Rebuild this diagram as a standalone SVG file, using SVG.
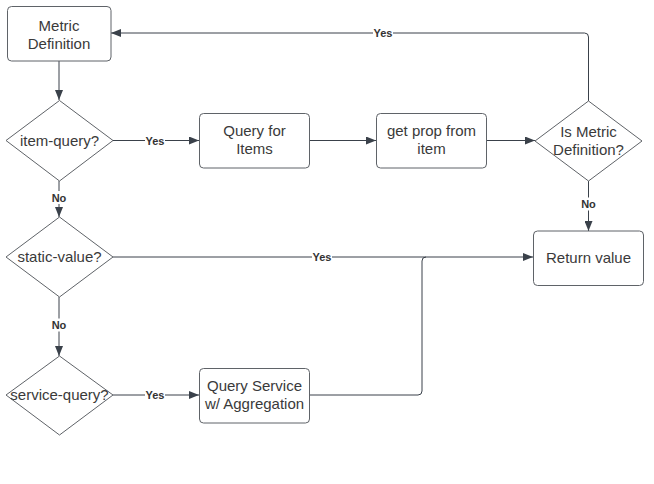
<svg xmlns="http://www.w3.org/2000/svg" width="654" height="484" viewBox="0 0 654 484">
<style>
.node{fill:#ffffff;stroke:#5f6368;stroke-width:1}
.t{font-family:"Liberation Sans",Arial,sans-serif;font-size:15px;fill:#3a3a3a;text-anchor:middle;dominant-baseline:central}
.c{fill:none;stroke:#3a414a;stroke-width:1}
.lbl{font-family:"Liberation Sans",Arial,sans-serif;font-size:11px;font-weight:bold;fill:#333333;text-anchor:middle;dominant-baseline:central}
.bg{fill:#ffffff}
</style>
<defs>
<marker id="ah" viewBox="0 0 10 8" refX="10" refY="4" markerWidth="10" markerHeight="8" markerUnits="userSpaceOnUse" orient="auto">
<path d="M0,0 L10,4 L0,8 Z" fill="#3a414a"/>
</marker>
</defs>
<rect width="654" height="484" fill="#ffffff"/>
<g id="connectors">
<path class="c" d="M59,61 V100" marker-end="url(#ah)"/>
<path class="c" d="M113,140.5 H199" marker-end="url(#ah)"/>
<path class="c" d="M310,140.5 H376" marker-end="url(#ah)"/>
<path class="c" d="M487,140.5 H535" marker-end="url(#ah)"/>
<path class="c" d="M588.5,101 V37 Q588.5,33 584.5,33 H111" marker-end="url(#ah)"/>
<path class="c" d="M588.5,181 V231" marker-end="url(#ah)"/>
<path class="c" d="M59,181 V217" marker-end="url(#ah)"/>
<path class="c" d="M113,257 H533" marker-end="url(#ah)"/>
<path class="c" d="M59,297 V356" marker-end="url(#ah)"/>
<path class="c" d="M113,395 H199" marker-end="url(#ah)"/>
<path class="c" d="M310,395 H418 Q422,395 422,391 V261 Q422,257 426,257"/>
<rect class="bg" x="145" y="134" width="20" height="13"/>
<text class="lbl" x="155" y="140.5">Yes</text>
<rect class="bg" x="49" y="191" width="20" height="13"/>
<text class="lbl" x="59" y="197.5">No</text>
<rect class="bg" x="373" y="26.5" width="20" height="13"/>
<text class="lbl" x="383" y="33">Yes</text>
<rect class="bg" x="578.5" y="197.5" width="20" height="13"/>
<text class="lbl" x="588.5" y="204">No</text>
<rect class="bg" x="312" y="250.5" width="20" height="13"/>
<text class="lbl" x="322" y="257">Yes</text>
<rect class="bg" x="49" y="318.5" width="20" height="13"/>
<text class="lbl" x="59" y="325">No</text>
<rect class="bg" x="145" y="388.5" width="20" height="13"/>
<text class="lbl" x="155" y="395">Yes</text>
</g>
<g id="metric-definition">
<rect class="node" x="7.5" y="6.5" width="103.5" height="54.5" rx="4"/>
<text class="t" x="59" y="25">Metric</text>
<text class="t" x="59" y="43">Definition</text>
</g>
<g id="item-query">
<path class="node" d="M59.5,100.5 L113,140.5 L59.5,181 L6,140.5 Z"/>
<text class="t" x="59.5" y="140">item-query?</text>
</g>
<g id="query-for-items">
<rect class="node" x="199.5" y="113.5" width="110" height="54.5" rx="4"/>
<text class="t" x="254.5" y="130">Query for</text>
<text class="t" x="254.5" y="148">Items</text>
</g>
<g id="get-prop">
<rect class="node" x="376.5" y="113.5" width="110" height="54.5" rx="4"/>
<text class="t" x="431.5" y="130">get prop from</text>
<text class="t" x="431.5" y="148">item</text>
</g>
<g id="is-metric-definition">
<path class="node" d="M588.5,101 L642,141 L588.5,181 L535,141 Z"/>
<text class="t" x="588.5" y="131">Is Metric</text>
<text class="t" x="588.5" y="149">Definition?</text>
</g>
<g id="return-value">
<rect class="node" x="533.5" y="231" width="110" height="54.5" rx="4"/>
<text class="t" x="588.5" y="257">Return value</text>
</g>
<g id="static-value">
<path class="node" d="M59.5,217 L113,257 L59.5,297 L6,257 Z"/>
<text class="t" x="59.5" y="256">static-value?</text>
</g>
<g id="service-query">
<path class="node" d="M59.5,356 L113,395 L59.5,435 L6,395 Z"/>
<text class="t" x="59.5" y="394.5">service-query?</text>
</g>
<g id="query-service">
<rect class="node" x="199.5" y="368.5" width="110" height="54.5" rx="4"/>
<text class="t" x="254.5" y="385">Query Service</text>
<text class="t" x="254.5" y="403">w/ Aggregation</text>
</g>
</svg>
